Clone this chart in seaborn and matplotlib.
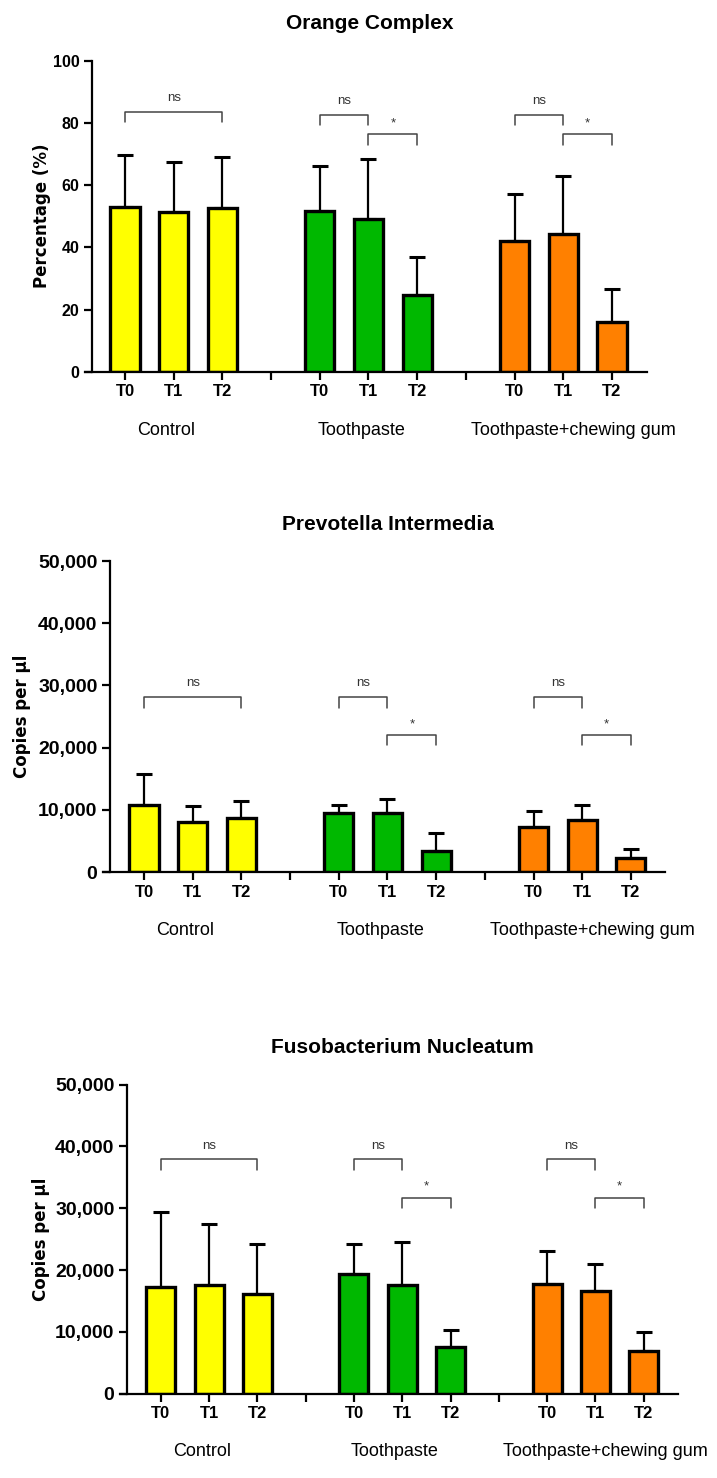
import numpy as np
import pandas as pd
import matplotlib.pyplot as plt
import seaborn as sns
from matplotlib.ticker import FuncFormatter

# Estilo
sns.set_theme(style="ticks")
plt.rcParams['font.family'] = ['Liberation Sans', 'DejaVu Sans']
plt.rcParams['text.color'] = 'black'
plt.rcParams['xtick.color'] = 'black'
plt.rcParams['ytick.color'] = 'black'

groups = ['Control', 'Toothpaste', 'Toothpaste+chewing gum']
times = ['T0', 'T1', 'T2']
colors = {'Control': '#ffff00', 'Toothpaste': '#00b800', 'Toothpaste+chewing gum': '#ff8000'}

# posiciones en el eje x (hueco entre grupos)
positions = [0, 1, 2, 4, 5, 6, 8, 9, 10]
separators = [3, 7]

# Orange Complex (%)
orange_mean = [53.0, 51.4, 52.6, 51.7, 49.2, 24.8, 42.1, 44.2, 16.0]
orange_sd = [16.8, 15.9, 16.3, 14.5, 19.2, 12.0, 15.1, 18.7, 10.7]

# Prevotella Intermedia (copies per ul)
prevotella_mean = [10800, 8100, 8700, 9500, 9500, 3400, 7300, 8300, 2300]
prevotella_sd = [5000, 2500, 2700, 1300, 2300, 2800, 2500, 2500, 1350]

# Fusobacterium Nucleatum (copies per ul)
fuso_mean = [17300, 17500, 16100, 19300, 17500, 7600, 17800, 16600, 6900]
fuso_sd = [12100, 10000, 8100, 4900, 7100, 2700, 5300, 4400, 3000]

# comparaciones: (x1, x2, altura, texto)
orange_brackets = [(0, 2, 83.5, 'ns'), (4, 5, 82.7, 'ns'), (5, 6, 76.3, '*'),
                   (8, 9, 82.7, 'ns'), (9, 10, 76.3, '*')]
prevotella_brackets = [(0, 2, 28100, 'ns'), (4, 5, 28100, 'ns'), (5, 6, 22000, '*'),
                       (8, 9, 28100, 'ns'), (9, 10, 22000, '*')]
fuso_brackets = [(0, 2, 37900, 'ns'), (4, 5, 37900, 'ns'), (5, 6, 31700, '*'),
                 (8, 9, 37900, 'ns'), (9, 10, 31700, '*')]

group_label_x = [0.85, 4.85, 9.2]

fig = plt.figure(figsize=(7.17, 14.78), dpi=100)


def draw_panel(rect, means, sds, ymax, ystep, brackets, title, ylabel, ylabel_x,
               ytick_size, comma, xlim):
    ax = fig.add_axes(rect)
    df = pd.DataFrame({'pos': positions, 'mean': means,
                       'group': np.repeat(groups, 3)})
    sns.barplot(data=df, x='pos', y='mean', hue='group', palette=colors,
                native_scale=True, width=0.6, saturation=1, edgecolor='black',
                linewidth=2.4, errorbar=None, legend=False, ax=ax)
    ax.errorbar(positions, means, yerr=[np.zeros(len(sds)), sds], fmt='none',
                ecolor='black', elinewidth=1.6, capsize=6, capthick=2.2, zorder=3)

    # corchetes de significancia
    drop = ymax * 0.033
    for x1, x2, y, lab in brackets:
        ax.plot([x1, x1, x2, x2], [y - drop, y, y, y - drop], color='#444444', lw=1.1)
        off = ymax * (0.045 if lab == 'ns' else 0.036)
        ax.text((x1 + x2) / 2, y + off, lab, ha='center', va='center',
                fontsize=9.5, color='#333333')

    ax.set_xlim(*xlim)
    ax.set_ylim(0, ymax)
    ax.set_xticks(positions + separators)
    ax.set_xticklabels(times * 3 + ['', ''], fontsize=12, fontweight='bold')
    ax.set_yticks(np.arange(0, ymax + 1, ystep))
    if comma:
        ax.yaxis.set_major_formatter(FuncFormatter(lambda v, p: f'{int(v):,}'))
    for lbl in ax.get_yticklabels():
        lbl.set_fontsize(ytick_size)
        lbl.set_fontweight('bold')
    ax.set_xlabel('')
    ax.set_ylabel('')
    sns.despine(ax=ax)
    for s in ['left', 'bottom']:
        ax.spines[s].set_linewidth(1.6)
        ax.spines[s].set_color('black')
    # el eje x sobresale un poco a la izquierda
    ax.spines['bottom'].set_bounds(xlim[0] - 0.14, xlim[1])
    ax.tick_params(axis='both', width=1.6, length=6, color='black', pad=3)

    ax.text(ylabel_x, 0.5, ylabel, transform=ax.transAxes, rotation=90,
            ha='center', va='center', fontsize=12, fontweight='bold',
            family=['DejaVu Sans'])
    ax.text(0.5, 1 + 37 / (rect[3] * 1478), title, transform=ax.transAxes,
            ha='center', va='center', fontsize=15, fontweight='bold')
    for gx, g in zip(group_label_x, groups):
        ax.text(gx, -0.188, g, transform=ax.get_xaxis_transform(),
                ha='center', va='center', fontsize=13)
    return ax


draw_panel([0.1283, 0.7485, 0.774, 0.2104], orange_mean, orange_sd, 100, 20,
           orange_brackets, 'Orange Complex', 'Percentage (%)', -0.09, 11.5,
           False, (-0.68, 10.72))
draw_panel([0.1534, 0.41, 0.774, 0.2104], prevotella_mean, prevotella_sd, 50000, 10000,
           prevotella_brackets, 'Prevotella Intermedia', 'Copies per µl', -0.159, 14,
           True, (-0.70, 10.70))
draw_panel([0.1771, 0.0571, 0.7685, 0.209], fuso_mean, fuso_sd, 50000, 10000,
           fuso_brackets, 'Fusobacterium Nucleatum', 'Copies per µl', -0.156, 14,
           True, (-0.70, 10.71))

fig.savefig('out.png', dpi=100, facecolor='white')
